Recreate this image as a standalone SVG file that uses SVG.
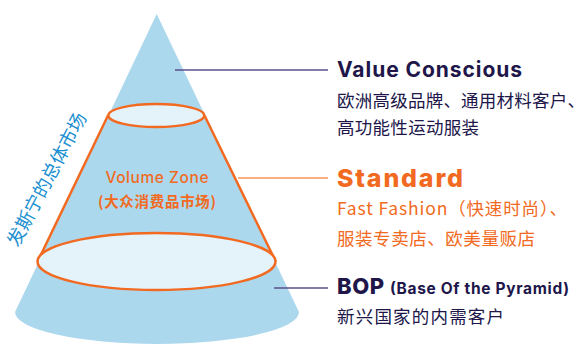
<svg xmlns="http://www.w3.org/2000/svg" width="586" height="344" viewBox="0 0 586 344">
<style>
.cone{fill:#acd8ee}
.ring{fill:#e4f3fa;stroke:#f26a21;stroke-width:2.5}
.side{fill:none;stroke:#f26a21;stroke-width:2.5}
.lp{stroke:#5b4f8c;stroke-width:1.5}
.lo{stroke:#f7945a;stroke-width:1.5}
.en{font-family:Inter,"Noto Sans",sans-serif;font-weight:700}
.cn{font-family:"Noto Sans CJK SC",sans-serif}
.dk{fill:#20164a}
.or{fill:#f26a21}
</style>
<g id="cone">
<path class="cone" d="M156.7,14 L15,312 A142,32 0 0 0 299,312 Z"/>
</g>
<g id="volume-zone">
<path class="side" d="M108,115.5 L37.7,261.5 M204.5,115.5 L275.7,261.5"/>
<ellipse class="ring" cx="156.5" cy="261.5" rx="119" ry="28.5"/>
<ellipse class="ring" cx="156.3" cy="115.5" rx="48" ry="11.5"/>
<text class="en or" x="157" y="183" text-anchor="middle" font-size="15.5" style="font-weight:500" textLength="103">Volume Zone</text>
<text class="cn or" x="157" y="207" text-anchor="middle" font-size="14.5" font-weight="700" textLength="118">(大众消费品市场)</text>
</g>
<g id="total-market">
<text class="cn" x="0" y="0" font-size="18.5" fill="#1b8fd0" transform="translate(18,248) rotate(-62.2)">发斯宁的总体市场</text>
</g>
<g id="connectors">
<line class="lp" x1="175" y1="70" x2="328" y2="70"/>
<line class="lo" x1="238" y1="178" x2="328" y2="178"/>
<line class="lp" x1="274" y1="288" x2="328" y2="288"/>
</g>
<g id="value-conscious">
<text class="en dk" x="337" y="77" font-size="21" textLength="185">Value Conscious</text>
<text class="cn dk" x="337" y="107" font-size="17.5" textLength="248">欧洲高级品牌、通用材料客户、</text>
<text class="cn dk" x="337" y="134" font-size="17.5" textLength="142">高功能性运动服装</text>
</g>
<g id="standard">
<text class="en or" x="337" y="187" font-size="25" style="font-weight:800" textLength="126">Standard</text>
<text class="cn or" x="337" y="215" font-size="17.5" textLength="230">Fast Fashion（快速时尚）、</text>
<text class="cn or" x="337" y="245" font-size="17.5" textLength="198">服装专卖店、欧美量贩店</text>
</g>
<g id="bop">
<text class="en dk" x="337" y="294" font-size="22" style="font-weight:800" textLength="47">BOP</text>
<text class="en dk" x="390" y="294" font-size="15.5" textLength="179">(Base Of the Pyramid)</text>
<text class="cn dk" x="337" y="323" font-size="17.5" textLength="167">新兴国家的内需客户</text>
</g>
</svg>
